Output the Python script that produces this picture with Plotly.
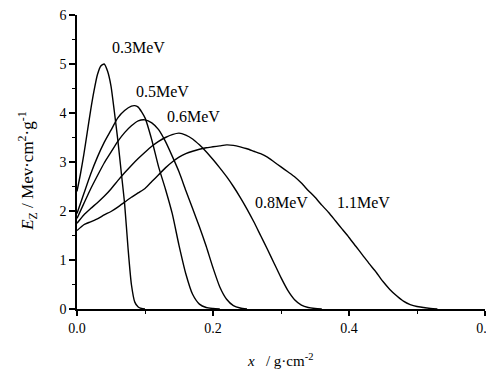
import plotly.graph_objects as go

# ---- data ----
x_03 = [0, 0.005, 0.01, 0.015, 0.02, 0.025, 0.03, 0.035, 0.04, 0.045, 0.05, 0.055,
        0.06, 0.065, 0.07, 0.075, 0.08, 0.085, 0.09, 0.095, 0.1]
y_03 = [2.40, 2.75, 3.15, 3.60, 4.05, 4.45, 4.78, 4.96, 5.00, 4.85, 4.55, 4.02,
        3.45, 2.80, 2.15, 1.25, 0.50, 0.14, 0.04, 0.01, 0.0]

x_05 = [0, 0.01, 0.02, 0.03, 0.04, 0.05, 0.06, 0.07, 0.08, 0.085, 0.09, 0.1,
        0.11, 0.12, 0.13, 0.14, 0.15, 0.16, 0.17, 0.18, 0.19, 0.2, 0.21]
y_05 = [1.95, 2.35, 2.75, 3.10, 3.40, 3.65, 3.90, 4.05, 4.14, 4.15, 4.12, 3.90,
        3.45, 2.90, 2.45, 1.95, 1.30, 0.72, 0.30, 0.10, 0.03, 0.01, 0.0]

x_06 = [0, 0.01, 0.02, 0.03, 0.04, 0.05, 0.06, 0.07, 0.08, 0.09, 0.1, 0.11,
        0.12, 0.13, 0.14, 0.15, 0.16, 0.17, 0.18, 0.19, 0.2, 0.21, 0.22, 0.23,
        0.24, 0.25]
y_06 = [1.85, 2.15, 2.45, 2.72, 2.98, 3.20, 3.42, 3.60, 3.74, 3.84, 3.86, 3.80,
        3.66, 3.42, 3.12, 2.80, 2.42, 2.05, 1.68, 1.28, 0.84, 0.45, 0.20, 0.07,
        0.02, 0.0]

x_08 = [0, 0.01, 0.02, 0.03, 0.04, 0.05, 0.06, 0.07, 0.08, 0.09, 0.1, 0.11,
        0.12, 0.13, 0.14, 0.15, 0.16, 0.17, 0.18, 0.19, 0.2, 0.21, 0.22, 0.23,
        0.24, 0.25, 0.26, 0.27, 0.28, 0.29, 0.3, 0.31, 0.32, 0.33, 0.34, 0.35,
        0.36]
y_08 = [1.75, 1.92, 2.05, 2.17, 2.30, 2.45, 2.62, 2.78, 2.93, 3.07, 3.20, 3.32,
        3.42, 3.50, 3.56, 3.59, 3.55, 3.47, 3.35, 3.21, 3.05, 2.88, 2.70, 2.50,
        2.28, 2.04, 1.78, 1.50, 1.22, 0.93, 0.64, 0.38, 0.19, 0.08, 0.03, 0.01,
        0.0]

x_11 = [0, 0.01, 0.02, 0.03, 0.04, 0.05, 0.06, 0.07, 0.08, 0.09, 0.1, 0.11,
        0.12, 0.13, 0.14, 0.15, 0.16, 0.17, 0.18, 0.19, 0.2, 0.21, 0.22, 0.23,
        0.24, 0.25, 0.26, 0.27, 0.28, 0.29, 0.3, 0.31, 0.32, 0.33, 0.34, 0.35,
        0.36, 0.37, 0.38, 0.39, 0.4, 0.41, 0.42, 0.43, 0.44, 0.45, 0.46, 0.47,
        0.48, 0.49, 0.5, 0.51, 0.52, 0.53]
y_11 = [1.60, 1.72, 1.78, 1.84, 1.92, 1.99, 2.08, 2.18, 2.28, 2.37, 2.46, 2.60,
        2.74, 2.88, 3.00, 3.10, 3.17, 3.22, 3.26, 3.29, 3.31, 3.33, 3.35, 3.34,
        3.31, 3.27, 3.22, 3.17, 3.10, 3.00, 2.90, 2.80, 2.70, 2.57, 2.42, 2.28,
        2.12, 1.97, 1.80, 1.63, 1.46, 1.28, 1.10, 0.92, 0.75, 0.56, 0.40, 0.27,
        0.16, 0.09, 0.05, 0.03, 0.01, 0.0]

series = [
    ("0.3MeV", x_03, y_03),
    ("0.5MeV", x_05, y_05),
    ("0.6MeV", x_06, y_06),
    ("0.8MeV", x_08, y_08),
    ("1.1MeV", x_11, y_11),
]

label_text = ["0.3MeV", "0.5MeV", "0.6MeV", "0.8MeV", "1.1MeV"]
label_x = [0.0897, 0.1257, 0.1716, 0.301, 0.4216]
label_y = [5.33, 4.43, 3.92, 2.17, 2.17]

x_tickvals = [0, 0.2, 0.4, 0.6]
x_ticktext = ["0.0", "0.2", "0.4", "0.6"]
y_tickvals = [0, 1, 2, 3, 4, 5, 6]

x_title = "<i>x</i>   / g·cm<sup>-2</sup>"
y_title = "<i>E</i><sub>Z</sub> / Mev·cm<sup>2</sup>·g<sup>-1</sup>"

FONT = "Liberation Serif"

fig = go.Figure()
for name, xs, ys in series:
    fig.add_trace(go.Scatter(x=xs, y=ys, mode="lines", name=name,
                             line=dict(color="black", width=1.4, shape="spline",
                                       smoothing=0.6),
                             showlegend=False, hoverinfo="skip"))

for t, lx, ly in zip(label_text, label_x, label_y):
    fig.add_annotation(x=lx, y=ly, text=t, showarrow=False,
                       font=dict(family=FONT, size=16, color="black"),
                       xanchor="center", yanchor="middle")

# axis titles
fig.add_annotation(xref="paper", yref="paper", x=0.4975, y=-0.172, text=x_title,
                   showarrow=False, font=dict(family=FONT, size=15, color="black"),
                   xanchor="center", yanchor="middle")
fig.add_annotation(xref="paper", yref="paper", x=-0.12, y=0.47, text=y_title,
                   textangle=-90, showarrow=False,
                   font=dict(family=FONT, size=17, color="black"),
                   xanchor="center", yanchor="middle")

# the page body adds an 8px offset, so the figure is sized to fit the window
fig.update_layout(
    width=486, height=363,
    margin=dict(l=69, r=9, t=7, b=62),
    plot_bgcolor="white", paper_bgcolor="white",
    font=dict(family=FONT, size=14, color="black"),
)

fig.update_xaxes(
    range=[0, 0.6], tickvals=x_tickvals, ticktext=x_ticktext, automargin=False,
    ticklabeloverflow="allow",
    showgrid=False, zeroline=False, showline=True, linecolor="black", linewidth=1.5,
    ticks="outside", ticklen=5, tickwidth=1.5, tickcolor="black",
    minor=dict(dtick=0.1, ticks="outside", ticklen=3, tickwidth=1.2, tickcolor="black"),
    tickfont=dict(family=FONT, size=14, color="black"),
)
fig.update_yaxes(
    range=[0, 6], tickvals=y_tickvals, automargin=False,
    ticklabeloverflow="allow",
    showgrid=False, zeroline=False, showline=True, linecolor="black", linewidth=1.5,
    ticks="outside", ticklen=6, tickwidth=1.5, tickcolor="black",
    minor=dict(dtick=0.5, ticks="outside", ticklen=3, tickwidth=1.2, tickcolor="black"),
    tickfont=dict(family=FONT, size=14, color="black"),
)

fig.write_html("out.html")
